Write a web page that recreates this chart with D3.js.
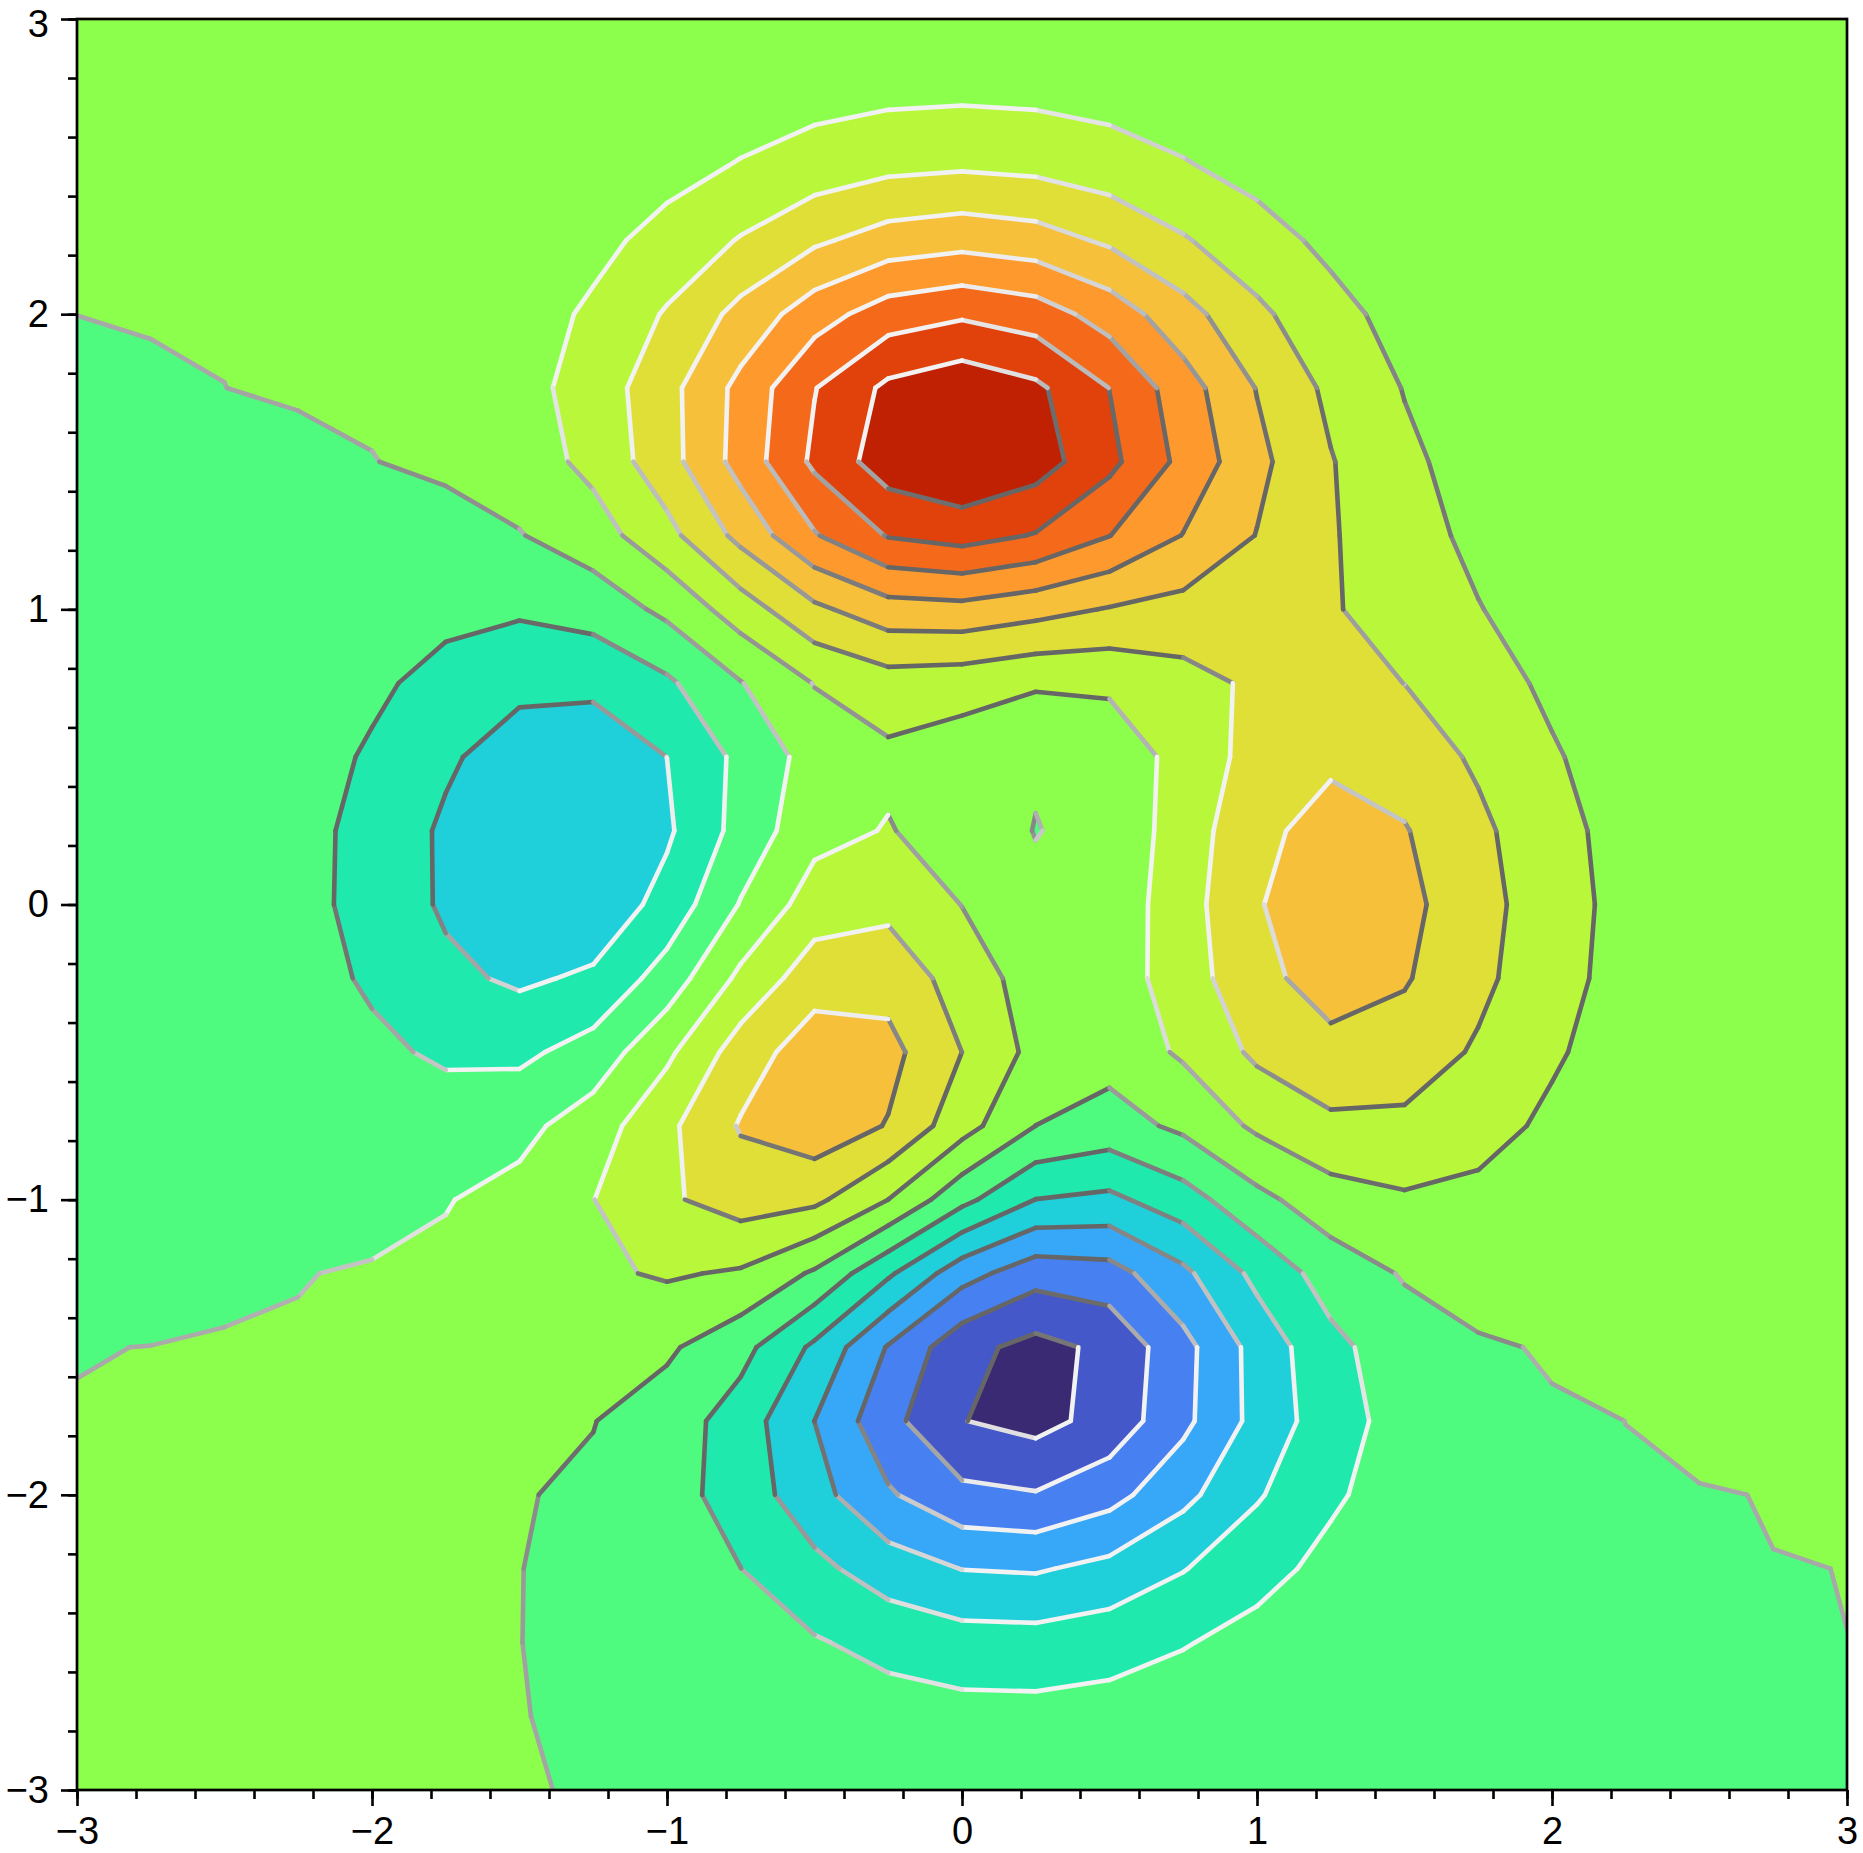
<!DOCTYPE html>
<html>
<head>
<meta charset="utf-8">
<script src="https://cdn.jsdelivr.net/npm/d3@7"></script>
<style>
html,body{margin:0;padding:0;background:#ffffff;}
svg{display:block;}
</style>
</head>
<body>
<svg id="chart" width="1863" height="1853"></svg>
<script>
// ---- data: grid sampled every 0.25 (columns = x from -3 to 3, rows = y from 3 down to -3)
const xs = [-3,-2.75,-2.5,-2.25,-2,-1.75,-1.5,-1.25,-1,-0.75,-0.5,-0.25,0,0.25,0.5,0.75,1,1.25,1.5,1.75,2,2.25,2.5,2.75,3];
const ys = [3,2.75,2.5,2.25,2,1.75,1.5,1.25,1,0.75,0.5,0.25,0,-0.25,-0.5,-0.75,-1,-1.25,-1.5,-1.75,-2,-2.25,-2.5,-2.75,-3];
const zRows = [
[3.22e-5,1.409e-4,5.386e-4,1.8041e-3,5.3058e-3,0.013713,0.031176,0.06238,0.10992,0.17064,0.2335,0.28174,0.29987,0.28167,0.23357,0.17106,0.11068,0.0633,0.032008,0.014315,5.6644e-3,1.9837e-3,6.15e-4,1.688e-4,4.10e-5],
[8.075e-5,3.618e-4,1.4076e-3,4.7765e-3,0.01418,0.036904,0.084312,0.16927,0.29892,0.46464,0.63617,0.76772,0.8171,0.76745,0.63649,0.4664,0.30214,0.17314,0.087812,0.039436,0.01569,5.5322e-3,1.7292e-3,4.792e-4,1.178e-4],
[1.58e-4,7.464e-4,3.0082e-3,0.010462,0.031607,0.083288,0.19195,0.38768,0.68722,1.07059,1.46735,1.77127,1.88498,1.77024,1.46851,1.07712,0.6992,0.40205,0.20495,0.092695,0.037216,0.01327,4.2029e-3,1.1826e-3,2.9555e-4],
[2.0573e-4,1.1325e-3,4.9775e-3,0.018283,0.057278,0.15471,0.3626,0.74059,1.32214,2.06807,2.83991,3.42983,3.64933,3.42643,2.84367,2.08943,1.36136,0.78767,0.40522,0.18555,0.075665,0.027487,8.8943e-3,2.5623e-3,6.567e-4],
[1.55e-5,8.356e-4,5.3319e-3,0.02316,0.079668,0.22786,0.55387,1.1578,2.09667,3.30603,4.55687,5.50887,5.85912,5.49889,4.56754,3.3676,2.20993,1.29388,0.6771,0.31704,0.13285,0.049786,0.016664,4.9725e-3,1.3202e-3],
[-8.589e-4,-1.6494e-3,-4.434e-4,0.013037,0.070017,0.24112,0.6464,1.42912,2.67308,4.28956,5.95995,7.21992,7.67232,7.19386,5.98623,4.44572,2.96135,1.77597,0.96069,0.46865,0.20573,0.080993,0.028482,8.911e-3,2.4719e-3],
[-3.0782e-3,-8.53e-3,-0.01889,-0.029306,-0.012091,0.10943,0.47844,1.27454,2.6076,4.37422,6.1956,7.54136,7.9966,7.4805,6.25127,4.72223,3.25396,2.05379,1.18527,0.62141,0.29341,0.12371,0.04625,0.015255,4.4245e-3],
[-7.2819e-3,-0.021856,-0.055769,-0.11804,-0.19719,-0.22501,-0.047041,0.54706,1.69444,3.28759,4.9199,6.06501,6.39011,5.93696,5.01899,3.96692,2.96887,2.08895,1.35394,0.79075,0.40928,0.18583,0.073634,0.025404,7.628e-3],
[-0.013669,-0.042123,-0.11194,-0.2535,-0.48076,-0.74029,-0.86387,-0.59908,0.2289,1.50692,2.7942,3.58548,3.68863,3.34044,2.93445,2.66217,2.43378,2.08436,1.58126,1.03535,0.58045,0.27859,0.11475,0.040698,0.012467],
[-0.021598,-0.067095,-0.18046,-0.41645,-0.8151,-1.3303,-1.75965,-1.7802,-1.16293,-0.045816,1.04005,1.55193,1.42256,1.12054,1.17127,1.64918,2.17083,2.31815,1.99252,1.40179,0.82044,0.40452,0.16958,0.060865,0.0188],
[-0.029474,-0.091633,-0.24681,-0.57106,-1.123,-1.84936,-2.49234,-2.6376,-1.99682,-0.75989,0.3898,0.79633,0.46407,0.089806,0.37538,1.34423,2.37681,2.83378,2.55759,1.84423,1.0943,0.54399,0.22924,0.082557,0.02556],
[-0.035098,-0.10887,-0.29241,-0.67409,-1.31902,-2.15654,-2.87332,-2.9786,-2.14915,-0.64689,0.68228,1.05658,0.52281,-0.02809,0.27948,1.46824,2.76234,3.36183,3.06159,2.21778,1.3193,0.65682,0.27704,0.099829,0.030917],
[-0.036506,-0.112723,-0.301015,-0.688593,-1.332688,-2.142484,-2.773605,-2.711945,-1.652345,0.063568,1.479606,1.75295,0.981011,0.19039,0.374446,1.572809,2.936927,3.582286,3.269456,2.371777,1.412159,0.703415,0.296773,0.106953,0.033125],
[-0.032967,-0.100985,-0.26689,-0.60197,-1.14125,-1.77521,-2.16347,-1.83585,-0.5659,1.22811,2.56138,2.62536,1.58498,0.52564,0.47557,1.49624,2.75561,3.37214,3.08812,2.24535,1.33875,0.66739,0.2817,0.10154,0.031449],
[-0.025545,-0.077125,-0.199975,-0.439076,-0.798906,-1.157572,-1.212847,-0.59587,0.796886,2.487949,3.550735,3.304395,1.997527,0.700065,0.389629,1.138828,2.19777,2.758223,2.559519,1.874614,1.122383,0.560886,0.237073,0.085519,0.026497],
[-0.016644,-0.048934,-0.122348,-0.254529,-0.423205,-0.509592,-0.280609,0.494663,1.782851,3.086226,3.626518,2.942281,1.396247,-0.004794,-0.413404,0.203711,1.175994,1.786388,1.778059,1.345758,0.819959,0.413888,0.175996,0.063721,0.019787],
[-0.008762,-0.024428,-0.056496,-0.103177,-0.130053,-0.042731,0.300686,0.98385,1.855892,2.453692,2.224735,0.996431,-0.723901,-2.015143,-2.222243,-1.425132,-0.272916,0.580716,0.883374,0.768711,0.499635,0.261141,0.113342,0.041562,0.013013],
[-0.003333,-0.008051,-0.01427,-0.011873,0.029919,0.166724,0.448513,0.835813,1.107067,0.882572,-0.138671,-1.844676,-3.604285,-4.602377,-4.399691,-3.223001,-1.737644,-0.556067,0.07926,0.266024,0.226223,0.132538,0.061095,0.023211,0.007431],
[-0.000452,0.000182,0.005323,0.025191,0.078901,0.185093,0.326543,0.392345,0.148322,-0.679741,-2.187128,-4.075374,-5.680258,-6.325642,-5.761612,-4.315558,-2.634858,-1.271007,-0.440491,-0.06595,0.042909,0.045435,0.025472,0.010647,0.003599],
[0.000618,0.002851,0.010305,0.030036,0.070331,0.127104,0.153203,0.023192,-0.461925,-1.478289,-3.004419,-4.696151,-5.972885,-6.326526,-5.638194,-4.241343,-2.686663,-1.419816,-0.6125,-0.204493,-0.04419,0.000704,0.006262,0.003652,0.00142],
[0.000747,0.002806,0.008793,0.022724,0.046835,0.069846,0.045155,-0.128519,-0.592124,-1.4478,-2.638961,-3.883499,-4.759601,-4.929901,-4.346745,-3.272106,-2.102344,-1.148724,-0.529313,-0.202177,-0.061639,-0.0135,-0.001173,0.000638,0.000418],
[0.000546,0.001934,0.005754,0.014113,0.027218,0.035674,0.007372,-0.122374,-0.438168,-0.99422,-1.743614,-2.505013,-3.021967,-3.099075,-2.719199,-2.047621,-1.324178,-0.734264,-0.347628,-0.139341,-0.046524,-0.012501,-0.002467,-0.00023,0.000066],
[0.000317,0.001097,0.003206,0.007736,0.014669,0.018778,0.002837,-0.067122,-0.234563,-0.526001,-0.915004,-1.306607,-1.569245,-1.604663,-1.406328,-1.059937,-0.687858,-0.38413,-0.184111,-0.075331,-0.026051,-0.007469,-0.001703,-0.000273,-0.000014],
[0.000156,0.000538,0.001571,0.003813,0.007375,0.010094,0.004482,-0.02441,-0.095847,-0.221734,-0.390774,-0.56163,-0.676913,-0.693713,-0.609004,-0.459811,-0.299091,-0.167595,-0.080747,-0.033311,-0.011674,-0.003425,-0.000817,-0.000147,-0.0000146],
[0.0000667,0.00023,0.00068,0.001682,0.003377,0.005096,0.004156,-0.005032,-0.029872,-0.07522,-0.137324,-0.201048,-0.244954,-0.252731,-0.222834,-0.168724,-0.109959,-0.061699,-0.02976,-0.012291,-0.004315,-0.00127,-0.000304,-0.0000555,-0.0000059]
];
const levels = [-6,-5,-4,-3,-2,-1,0,1,2,3,4,5,6,7,8];
const xTicks = [-3,-2,-1,0,1,2,3];
const yTicks = [-3,-2,-1,0,1,2,3];

// ---- styles
const bandColors = ["#392a73","#4458c9","#4680f1","#37a8f7","#1fcfd9","#1fe9ac","#4ffb7e",
                    "#8cff4c","#b9f73a","#dfdf38","#f6c03a","#fe992e","#f46a1a","#e1420c","#bf2102","#920c00"];
const FONT = "'Liberation Sans', Arial, Helvetica, sans-serif";
const M = {l:77, t:19, r:1847, b:1790};

const svg = d3.select("#chart");
const x = d3.scaleLinear().domain([xs[0], xs[xs.length-1]]).range([M.l, M.r]);
const y = d3.scaleLinear().domain([ys[ys.length-1], ys[0]]).range([M.b, M.t]);

const nx = xs.length, ny = ys.length;
const values = zRows.flat();
// d3.contours puts sample i at grid coordinate i + 0.5
const gx = d3.scaleLinear().domain([0.5, nx-0.5]).range([x(xs[0]), x(xs[nx-1])]);
const gy = d3.scaleLinear().domain([0.5, ny-0.5]).range([y(ys[0]), y(ys[ny-1])]);
const contours = d3.contours().size([nx, ny]).thresholds(levels)(values);
const path = d3.geoPath(d3.geoTransform({
  point(px, py) { this.stream.point(gx(px), gy(py)); }
}));

svg.append("defs").append("clipPath").attr("id","plotclip")
  .append("rect").attr("x",M.l).attr("y",M.t).attr("width",M.r-M.l).attr("height",M.b-M.t);

const plot = svg.append("g").attr("clip-path","url(#plotclip)");
plot.append("rect").attr("x",M.l).attr("y",M.t).attr("width",M.r-M.l).attr("height",M.b-M.t)
  .attr("fill",bandColors[0]);
plot.selectAll("path.band").data(contours).join("path")
  .attr("class","band")
  .attr("d", path)
  .attr("fill", (d,i) => bandColors[i+1])
  .attr("stroke", (d,i) => bandColors[i+1])
  .attr("stroke-width", 0.6);

// ---- contour lines, shaded per segment by slope direction (light from upper left)
function zAt(fx, fy) {
  fx = Math.max(0, Math.min(nx-1, fx));
  fy = Math.max(0, Math.min(ny-1, fy));
  const i = Math.min(nx-2, Math.floor(fx)), j = Math.min(ny-2, Math.floor(fy));
  const tx = fx - i, ty = fy - j;
  return zRows[j][i]*(1-tx)*(1-ty) + zRows[j][i+1]*tx*(1-ty) +
         zRows[j+1][i]*(1-tx)*ty + zRows[j+1][i+1]*tx*ty;
}
const stepX = Math.abs(xs[1]-xs[0]), stepY = Math.abs(ys[1]-ys[0]);
const inside = p => p[0] >= 0.5-1e-6 && p[0] <= nx-0.5+1e-6 && p[1] >= 0.5-1e-6 && p[1] <= ny-0.5+1e-6;
const segs = [];
contours.forEach(c => {
  c.coordinates.forEach(poly => poly.forEach(ring => {
    for (let k = 0; k < ring.length-1; k++) {
      const p = ring[k], q = ring[k+1];
      if (!inside(p) || !inside(q)) continue;
      const mx = (p[0]+q[0])/2 - 0.5, my = (p[1]+q[1])/2 - 0.5;
      let nxv = -(q[1]-p[1]), nyv = (q[0]-p[0]);
      const nl = Math.hypot(nxv, nyv) || 1;
      nxv /= nl; nyv /= nl;
      const e = 0.08;
      if (zAt(mx + e*nxv, my + e*nyv) > zAt(mx - e*nxv, my - e*nyv)) { nxv = -nxv; nyv = -nyv; }
      // (nxv, nyv) now points downhill in screen orientation
      const h = 0.4;
      const dzx = (zAt(mx+h,my) - zAt(mx-h,my)) / (2*h*stepX);
      const dzy = (zAt(mx,my+h) - zAt(mx,my-h)) / (2*h*stepY);
      const g = Math.hypot(dzx, dzy);
      const dot = (nxv*(-1) + nyv*(-1)) * Math.SQRT1_2;
      const I = dot * Math.tanh(g/1.5);
      const v = Math.round(Math.max(102, Math.min(242, 168 + 112*I)));
      segs.push({x1: gx(p[0]), y1: gy(p[1]), x2: gx(q[0]), y2: gy(q[1]), c: `rgb(${v},${v},${v})`});
    }
  }));
});
plot.append("g").selectAll("line").data(segs).join("line")
  .attr("x1", d => d.x1).attr("y1", d => d.y1)
  .attr("x2", d => d.x2).attr("y2", d => d.y2)
  .attr("stroke", d => d.c)
  .attr("stroke-width", 4.6)
  .attr("stroke-linecap", "round");

// ---- axes
const fmt = d => d < 0 ? "\u2212" + Math.abs(d) : String(d);
function styleAxis(g) {
  g.select(".domain").remove();
  g.selectAll(".tick line").attr("stroke","#000").attr("stroke-width",2.6);
  g.selectAll(".tick text").attr("fill","#000").attr("font-family",FONT).attr("font-size",38);
  g.attr("font-family",FONT).attr("font-size",38);
}
svg.append("g").attr("transform",`translate(0,${M.b})`)
  .call(d3.axisBottom(x).ticks(30).tickSize(9).tickFormat("")).call(styleAxis);
svg.append("g").attr("transform",`translate(0,${M.b})`)
  .call(d3.axisBottom(x).tickValues(xTicks).tickSize(16).tickPadding(11).tickFormat(fmt)).call(styleAxis);
svg.append("g").attr("transform",`translate(${M.l},0)`)
  .call(d3.axisLeft(y).ticks(30).tickSize(9).tickFormat("")).call(styleAxis);
const yAxisG = svg.append("g").attr("transform",`translate(${M.l},0)`)
  .call(d3.axisLeft(y).tickValues(yTicks).tickSize(16).tickPadding(12).tickFormat(fmt)).call(styleAxis);
// keep the topmost label fully inside the picture
yAxisG.selectAll(".tick").filter(d => d === yTicks[yTicks.length-1]).select("text").attr("dy","0.45em");

svg.append("rect").attr("x",M.l).attr("y",M.t).attr("width",M.r-M.l).attr("height",M.b-M.t)
  .attr("fill","none").attr("stroke","#000").attr("stroke-width",2.7);
</script>
</body>
</html>
